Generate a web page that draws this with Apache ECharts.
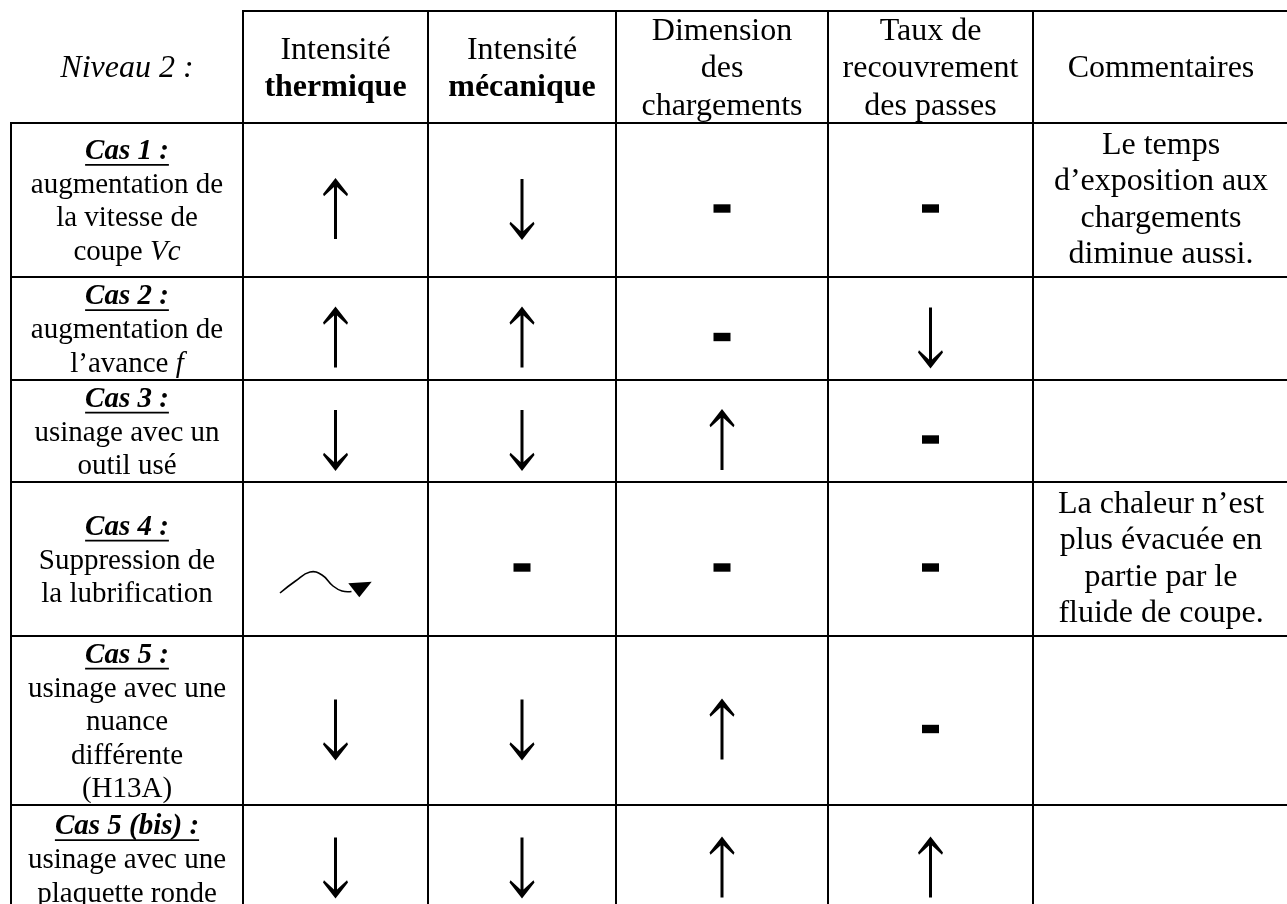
<!DOCTYPE html>
<html><head><meta charset="utf-8">
<script src="https://cdn.jsdelivr.net/npm/echarts@6/dist/echarts.min.js"></script>
<style>html,body{margin:0;padding:0;background:#fff}#c{width:1287px;height:904px}</style>
</head><body><div id="c"></div>
<script>
// ---------- content ----------
const headerLines = [
  ['{i|Niveau 2 :}'],
  ['Intensité', '{b|thermique}'],
  ['Intensité', '{b|mécanique}'],
  ['Dimension', 'des', 'chargements'],
  ['Taux de', 'recouvrement', 'des passes'],
  ['Commentaires']
];
const caseTitles = ['Cas 1 :', 'Cas 2 :', 'Cas 3 :', 'Cas 4 :', 'Cas 5 :', 'Cas 5 (bis) :'];
const caseDescriptions = [
  ['augmentation de', 'la vitesse de', 'coupe {i|Vc}'],
  ['augmentation de', 'l’avance {i|f}'],
  ['usinage avec un', 'outil usé'],
  ['Suppression de', 'la lubrification'],
  ['usinage avec une', 'nuance', 'différente', '(H13A)'],
  ['usinage avec une', 'plaquette ronde']
];
const intensiteThermique   = ['hausse', 'hausse', 'baisse', 'variable', 'baisse', 'baisse'];
const intensiteMecanique   = ['baisse', 'hausse', 'baisse', 'stable',   'baisse', 'baisse'];
const dimensionChargements = ['stable', 'stable', 'hausse', 'stable',   'hausse', 'hausse'];
const tauxRecouvrement     = ['stable', 'baisse', 'stable', 'stable',   'stable', 'hausse'];
const commentaires = [
  ['Le temps', 'd’exposition aux', 'chargements', 'diminue aussi.'],
  [], [],
  ['La chaleur n’est', 'plus évacuée en', 'partie par le', 'fluide de coupe.'],
  [], []
];
const effectColumns = [intensiteThermique, intensiteMecanique, dimensionChargements, tauxRecouvrement];

// ---------- layout ----------
const COL_EDGES = [11, 243, 428, 616, 828, 1033, 1289];
const ROW_EDGES = [11, 123, 277, 380, 482, 636, 805, 912];
const FAM = '"Liberation Serif", "Times New Roman", serif';
const TEXT_SHIFT = 2;

const cells = [];
for (let r = 0; r < ROW_EDGES.length - 1; r++)
  for (let c = 0; c < COL_EDGES.length - 1; c++) cells.push([c, r]);

const measureCtx = document.createElement('canvas').getContext('2d');
function textWidth(t, font) { measureCtx.font = font; return measureCtx.measureText(t).width; }

function richFor(fs) {
  return {
    i: { font: 'italic ' + fs + 'px ' + FAM, fill: '#000' },
    b: { font: 'bold ' + fs + 'px ' + FAM, fill: '#000' }
  };
}

function textEl(t, x, y, fs, extraFont) {
  return {
    type: 'text',
    style: {
      text: t, x: x, y: y + TEXT_SHIFT, align: 'center', verticalAlign: 'middle',
      font: (extraFont || '') + fs + 'px ' + FAM, fill: '#000', rich: richFor(fs)
    }
  };
}

function arrowPoints(cx, cy, dir) {
  const pts = [[0, -31], [12.5, -15], [11.5, -12.8], [1.5, -22], [1.5, 30], [-1.5, 30], [-1.5, -22], [-11.5, -12.8], [-12.5, -15]];
  return pts.map(p => [cx + p[0], cy + dir * p[1]]);
}

function symbolEls(kind, cx, cy) {
  if (kind === 'hausse' || kind === 'baisse') {
    return [{ type: 'polygon', shape: { points: arrowPoints(cx, cy + 9, kind === 'hausse' ? 1 : -1) }, style: { fill: '#000' } }];
  }
  if (kind === 'stable') {
    return [{ type: 'rect', shape: { x: cx - 8.5, y: cy + 8.5 - 4.2, width: 17, height: 8.4 }, style: { fill: '#000' } }];
  }
  if (kind === 'variable') {
    const w = [[-55.5, 34], [-40, 22], [-25.5, 13], [-13.5, 16], [-2.5, 27], [6.5, 32], [16, 32.5]];
    const tri = [[12.8, 24.3], [36.2, 22.7], [23.8, 38.3]];
    return [
      { type: 'polyline', shape: { points: w.map(p => [cx + p[0], cy + p[1]]), smooth: 0.45 }, style: { stroke: '#000', fill: null, lineWidth: 1.6 } },
      { type: 'polygon', shape: { points: tri.map(p => [cx + p[0], cy + p[1]]) }, style: { fill: '#000' } }
    ];
  }
  return [];
}

function renderItem(params, api) {
  const c = api.value(0), r = api.value(1);
  const p0 = api.coord([COL_EDGES[c], ROW_EDGES[r]]);
  const p1 = api.coord([COL_EDGES[c + 1], ROW_EDGES[r + 1]]);
  const x0 = p0[0], y0 = p0[1], x1 = p1[0], y1 = p1[1];
  const cx = (x0 + x1) / 2, cy = (y0 + y1) / 2;
  const ch = [];
  const seg = (ax, ay, bx, by) => ch.push({ type: 'line', shape: { x1: ax, y1: ay, x2: bx, y2: by }, style: { stroke: '#000', lineWidth: 2 } });
  if (!(r === 0 && c === 0)) { seg(x0 - 1, y0, x1 + 1, y0); seg(x0, y0 - 1, x0, y1 + 1); }
  seg(x1, y0 - 1, x1, y1 + 1);
  seg(x0 - 1, y1, x1 + 1, y1);

  if (r === 0) {
    const lines = headerLines[c], lh = 37.5, fs = 32;
    lines.forEach((t, i) => ch.push(textEl(t, cx, cy + (i - (lines.length - 1) / 2) * lh, fs)));
  } else if (c === 0) {
    const k = r - 1, fs = 29, lh = 33.5;
    const lines = [caseTitles[k]].concat(caseDescriptions[k]);
    lines.forEach((t, i) => {
      const y = cy + (i - (lines.length - 1) / 2) * lh;
      if (i === 0) {
        const f = 'italic bold ';
        ch.push(textEl(t, cx, y, fs, f));
        const w = textWidth(t, f + fs + 'px ' + FAM);
        const uy = y + TEXT_SHIFT + 0.337 * fs + 3.4;
        ch.push({ type: 'line', shape: { x1: cx - w / 2, y1: uy, x2: cx + w / 2, y2: uy }, style: { stroke: '#000', lineWidth: 1.7 } });
      } else {
        ch.push(textEl(t, cx, y, fs));
      }
    });
  } else if (c === 5) {
    const lines = commentaires[r - 1], fs = 32, lh = 36.5;
    lines.forEach((t, i) => ch.push(textEl(t, cx, cy - 2 + (i - (lines.length - 1) / 2) * lh, fs)));
  } else {
    symbolEls(effectColumns[c - 1][r - 1], cx, cy).forEach(e => ch.push(e));
  }
  return { type: 'group', children: ch };
}

const chart = echarts.init(document.getElementById('c'), null, { renderer: 'canvas' });
chart.setOption({
  backgroundColor: '#fff',
  animation: false,
  grid: { left: 0, right: 0, top: 0, bottom: 0, containLabel: false },
  xAxis: { type: 'value', min: 0, max: 1287, show: false },
  yAxis: { type: 'value', min: 0, max: 904, inverse: true, show: false },
  series: [{
    type: 'custom',
    renderItem: renderItem,
    clip: false,
    silent: true,
    encode: { x: 0, y: 1 },
    data: cells
  }]
});
</script>
</body></html>
